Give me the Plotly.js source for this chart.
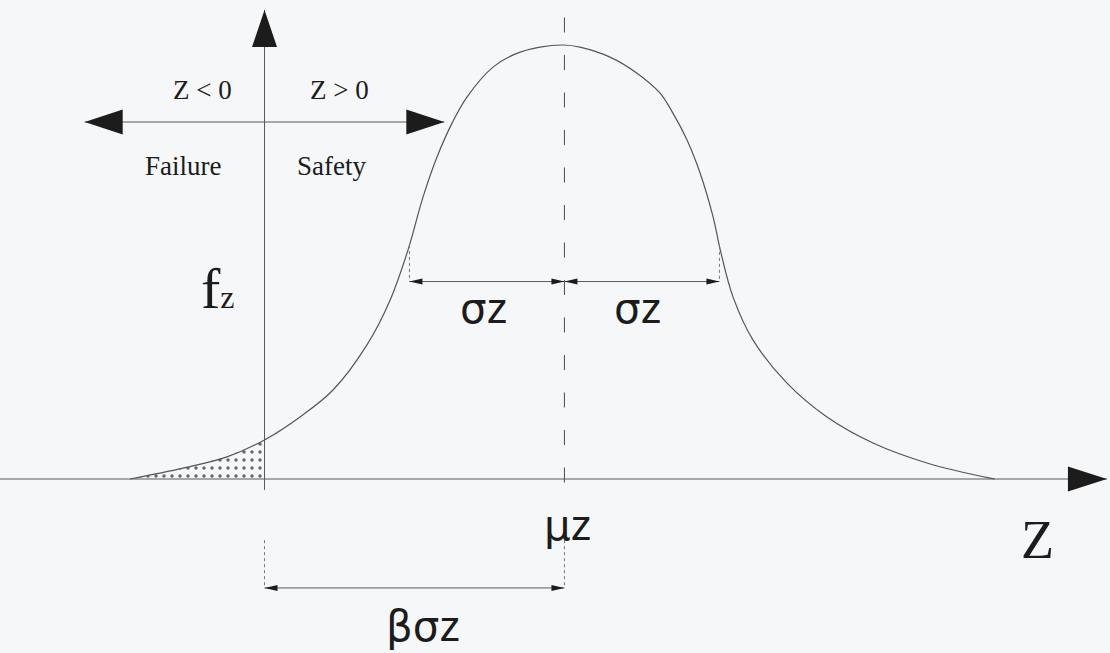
<!DOCTYPE html>
<html>
<head>
<meta charset="utf-8">
<script src="https://cdn.plot.ly/plotly-3.0.1.min.js"></script>
<style>
  html, body { margin: 0; padding: 0; background: #f6f7f9; }
  #chart { width: 1110px; height: 653px; }
</style>
</head>
<body>
<div id="chart"></div>
<script>
// Safety margin Z = R - S, measured in units of sigma_Z from Z = 0.
// Density f_Z of the margin, normalised to its peak value.
const zPoints = [-0.868, -0.526, -0.242, 0.000, 0.229, 0.442, 0.661, 0.810, 0.926, 1.023,
                 1.113, 1.210, 1.306, 1.474, 1.616, 1.777, 1.932, 2.035, 2.229, 2.403,
                 2.552, 2.635, 2.726, 2.810, 2.894, 2.945, 3.023, 3.152, 3.371, 3.629,
                 3.926, 4.274, 4.681, 4.713];
const fPoints = [0.000, 0.025, 0.051, 0.090, 0.143, 0.205, 0.309, 0.412, 0.528, 0.650,
                 0.742, 0.820, 0.880, 0.949, 0.979, 0.995, 1.000, 0.995, 0.972, 0.935,
                 0.889, 0.843, 0.781, 0.705, 0.604, 0.521, 0.419, 0.320, 0.221, 0.143,
                 0.083, 0.037, 0.002, 0.000];

const beta = 1.935;    // reliability index: mu_Z = beta * sigma_Z
const sigmaZ = 1;
const muZ = beta * sigmaZ;

// Failure region Z < 0
const failZ = zPoints.filter(z => z <= 0);
const failF = fPoints.slice(0, failZ.length);

// ---- drawing frame ----
const W = 1110, H = 653;
const xr = [-1.7065, 5.4548];
const yr = [-0.4009, 1.1037];
const pxX = W / (xr[1] - xr[0]);
const pxY = H / (yr[1] - yr[0]);

const ink = '#1c1c1c';
const lineCol = '#5a5a5a';
const serif = 'Liberation Serif, Times New Roman, serif';
const sans = 'Liberation Sans, Arial, sans-serif';
const greek = 'DejaVu Sans';

function fAt(z) {
  for (let i = 0; i < zPoints.length - 1; i++) {
    if (z >= zPoints[i] && z <= zPoints[i + 1]) {
      const t = (z - zPoints[i]) / (zPoints[i + 1] - zPoints[i]);
      return fPoints[i] + t * (fPoints[i + 1] - fPoints[i]);
    }
  }
  return 0;
}

// filled triangular arrow head, size given in screen pixels
function head(tx, ty, dir, len, half, color) {
  const lx = len / pxX, ly = len / pxY, hx = half / pxX, hy = half / pxY;
  let p;
  if (dir === 'r') p = [[tx, ty], [tx - lx, ty + hy], [tx - lx, ty - hy]];
  if (dir === 'l') p = [[tx, ty], [tx + lx, ty + hy], [tx + lx, ty - hy]];
  if (dir === 'u') p = [[tx, ty], [tx - hx, ty - ly], [tx + hx, ty - ly]];
  if (dir === 'd') p = [[tx, ty], [tx - hx, ty + ly], [tx + hx, ty + ly]];
  return {
    type: 'path', xref: 'x', yref: 'y',
    path: 'M' + p.map(q => q[0] + ',' + q[1]).join(' L') + ' Z',
    fillcolor: color || ink, line: { width: 0 }
  };
}
function seg(x0, y0, x1, y1, color, width, dash) {
  return { type: 'line', xref: 'x', yref: 'y', x0, y0, x1, y1,
           line: { color: color || lineCol, width: width || 1, dash: dash || 'solid' } };
}

// levels of the guide lines
const axisTopF = 1.0806;
const signLevel = 0.8226;       // Z<0 / Z>0 arrow
const signHalf = 1.16;
const sigmaLevel = 0.455;       // sigma_Z dimension
const betaTick = [-0.141, -0.251];

const shapes = [
  // Z axis
  seg(xr[0], 0, 5.435, 0, lineCol, 1.2),
  head(5.435, 0, 'r', 39, 12.5),
  // f_Z axis
  seg(0, -0.025, 0, axisTopF, lineCol, 1),
  head(0, axisTopF, 'u', 37, 12.5),
  // failure / safety direction arrow
  seg(-signHalf, signLevel, signHalf, signLevel, lineCol, 1),
  head(-signHalf, signLevel, 'l', 38, 12.5),
  head(signHalf, signLevel, 'r', 38, 12.5),
  // mean line
  seg(muZ, 1.0634, muZ, -0.025, '#4a4a4a', 1, '15px,22.5px'),
  // sigma_Z dimensions
  seg(muZ - sigmaZ, fAt(muZ - sigmaZ), muZ - sigmaZ, sigmaLevel, '#777', 1, 'dot'),
  seg(muZ + sigmaZ, fAt(muZ + sigmaZ), muZ + sigmaZ, sigmaLevel, '#777', 1, 'dot'),
  seg(muZ - sigmaZ, sigmaLevel, muZ + sigmaZ, sigmaLevel, lineCol, 1),
  head(muZ - sigmaZ, sigmaLevel, 'l', 13, 3),
  head(muZ, sigmaLevel, 'r', 13, 3),
  head(muZ, sigmaLevel, 'l', 13, 3),
  head(muZ + sigmaZ, sigmaLevel, 'r', 13, 3),
  // beta * sigma_Z dimension
  seg(0, betaTick[0], 0, betaTick[1], '#777', 1, 'dot'),
  seg(muZ, betaTick[0], muZ, betaTick[1], '#777', 1, 'dot'),
  seg(0, betaTick[1], muZ, betaTick[1], lineCol, 1),
  head(0, betaTick[1], 'l', 13, 3),
  head(muZ, betaTick[1], 'r', 13, 3)
];

function label(text, x, y, size, family, yanchor) {
  return { text, x, y, xref: 'x', yref: 'y', showarrow: false,
           xanchor: 'center', yanchor: yanchor || 'middle',
           font: { size, family: family || serif, color: ink } };
}
const g = s => '<span style="font-family:' + greek + '">' + s + '</span>';

const annotations = [
  label('Z &lt; 0', -0.403, 0.896, 27),
  label('Z &gt; 0', 0.487, 0.896, 27),
  label('Failure', -0.526, 0.721, 27),
  label('Safety', 0.435, 0.721, 27),
  label('f<span style="font-size:32px">z</span>', -0.30, 0.440, 58),
  label('Z', 4.984, -0.141, 54),
  label(g('σ') + 'z', muZ - 0.52, 0.392, 42, sans),
  label(g('σ') + 'z', muZ + 0.475, 0.392, 42, sans),
  label(g('μ') + 'z', muZ + 0.02, -0.106, 42, sans),
  label(g('βσ') + 'z', 1.023, yr[0], 42, sans, 'bottom')
];

const traces = [
  {
    x: failZ, y: failF, type: 'scatter', mode: 'lines',
    fill: 'tozeroy', fillcolor: 'rgba(0,0,0,0)',
    fillpattern: { shape: '.', size: 8, solidity: 0.15, fgcolor: '#666', bgcolor: 'rgba(0,0,0,0)' },
    line: { width: 0 }, hoverinfo: 'skip'
  },
  {
    x: zPoints, y: fPoints, type: 'scatter', mode: 'lines',
    line: { color: '#555', width: 1.2, shape: 'spline', smoothing: 1 },
    hoverinfo: 'skip'
  }
];

const layout = {
  width: W, height: H,
  margin: { l: 0, r: 0, t: 0, b: 0 },
  paper_bgcolor: '#f6f7f9', plot_bgcolor: '#f6f7f9',
  showlegend: false,
  xaxis: { range: xr, visible: false, fixedrange: true },
  yaxis: { range: yr, visible: false, fixedrange: true },
  shapes, annotations
};

Plotly.newPlot('chart', traces, layout, { staticPlot: true, displayModeBar: false });
</script>
</body>
</html>
